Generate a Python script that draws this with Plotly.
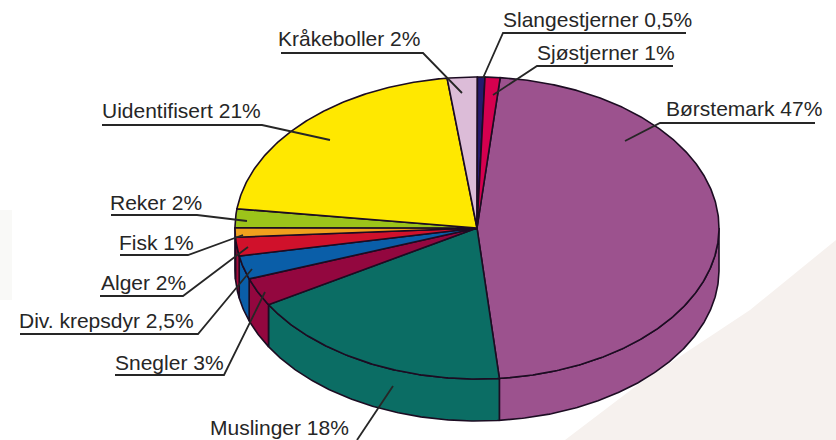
"""Bunnfauna pie, tilted with a rim, drawn as filled polygons in pixel-like axes."""
import numpy as np
import plotly.graph_objects as go

W, H = 836, 440

# clockwise from Børstemark, values in percent as printed
GROUPS = ["Børstemark", "Muslinger", "Snegler", "Div. krepsdyr", "Alger", "Fisk",
          "Reker", "Uidentifisert", "Kråkeboller", "Slangestjerner", "Sjøstjerner"]
VALUES = [47, 18, 3, 2.5, 2, 1, 2, 21, 2, 0.5, 1]
VALUE_TEXT = ["47%", "18%", "3%", "2,5%", "2%", "1%", "2%", "21%", "2%", "0,5%", "1%"]
TOP_COLORS = ["#9c528e", "#0b6d64", "#93073f", "#0a5ea8", "#d0112b", "#f0a01e",
              "#9cc41a", "#ffe800", "#dcbcd8", "#241a6e", "#d5004f"]
SIDE_COLORS = ["#9c528e", "#0b6d64", "#93073f", "#0a5ea8", "#a50d3c", "#a50d3c",
               "#9cc41a", "#ffe800", "#dcbcd8", "#241a6e", "#d5004f"]

# pie geometry in picture pixels
CX, CY = 477, 228
RX, RY = 242, 151
DEPTH = 42
START = 5.5
OUTLINE = "#1c0c22"

# label left edge and vertical centre, same order as GROUPS
LABEL_X = [666, 210, 115, 19, 101, 119, 110, 102, 278, 503, 537]
LABEL_Y = [108, 427, 362, 320, 282, 242, 202, 110, 38, 19, 52]

# underline + leader polylines, same order as GROUPS
LEADERS = [
    [(815, 123), (660, 123), (625, 141)],
    [(357, 440), (393, 386)],
    [(115, 375), (224, 375), (265, 292)],
    [(20, 334), (198, 334), (252, 269)],
    [(100, 296), (183, 296), (248, 247)],
    [(120, 255), (188, 255), (243, 235)],
    [(111, 215), (197, 215), (247, 221)],
    [(102, 125), (262, 125), (330, 140)],
    [(281, 53), (423, 53), (462, 93)],
    [(686, 33), (503, 33), (483, 78)],
    [(673, 66), (537, 66), (493, 95)],
]

# pale decoration behind the chart
SWOOSH_X = [836, 750, 640, 565, 836]
SWOOSH_Y = [240, 310, 383, 440, 440]
PATCH_X = [0, 12, 12, 0]
PATCH_Y = [210, 210, 300, 300]


def arc(a0, a1, drop=0):
    t = np.radians(np.linspace(a0, a1, max(int(abs(a1 - a0) * 2), 2)))
    return CX + RX * np.sin(t), CY - RY * np.cos(t) + drop


edges = START + np.concatenate([[0], np.cumsum(VALUES)]) * 360 / sum(VALUES)

fig = go.Figure()
fig.add_scatter(x=SWOOSH_X, y=SWOOSH_Y, fill="toself", fillcolor="#f6f1ee", mode="none")
fig.add_scatter(x=PATCH_X, y=PATCH_Y, fill="toself", fillcolor="#f9f9f7", mode="none")

# rim first, only the part that faces the viewer
for i in range(len(VALUES)):
    a0, a1 = max(edges[i], 90), min(edges[i + 1], 270)
    if a1 <= a0:
        continue
    xt, yt = arc(a0, a1)
    xb, yb = arc(a1, a0, DEPTH)
    fig.add_scatter(x=np.r_[xt, xb, xt[0]], y=np.r_[yt, yb, yt[0]], mode="lines",
                    fill="toself", fillcolor=SIDE_COLORS[i],
                    line=dict(color=OUTLINE, width=1.6))

for i in range(len(VALUES)):
    xs, ys = arc(edges[i], edges[i + 1])
    fig.add_scatter(x=np.r_[CX, xs, CX], y=np.r_[CY, ys, CY], mode="lines",
                    fill="toself", fillcolor=TOP_COLORS[i],
                    line=dict(color=OUTLINE, width=1.6))

for pts in LEADERS:
    fig.add_scatter(x=[p[0] for p in pts], y=[p[1] for p in pts], mode="lines",
                    line=dict(color="#262626", width=1.8))

for i, name in enumerate(GROUPS):
    fig.add_annotation(x=LABEL_X[i], y=LABEL_Y[i], text=f"{name} {VALUE_TEXT[i]}",
                       showarrow=False, xanchor="left", yanchor="middle", xshift=-2,
                       font=dict(family="Liberation Sans", size=21, color="#262626"))

fig.update_layout(
    width=W, height=H, showlegend=False, hovermode=False,
    paper_bgcolor="white", plot_bgcolor="white",
    margin=dict(l=0, r=0, t=0, b=0),
    xaxis=dict(range=[0, W], visible=False, fixedrange=True),
    yaxis=dict(range=[H, 0], visible=False, fixedrange=True),
)
fig.write_html("out.html", config=dict(displayModeBar=False),
               post_script="document.body.style.margin='0';")
